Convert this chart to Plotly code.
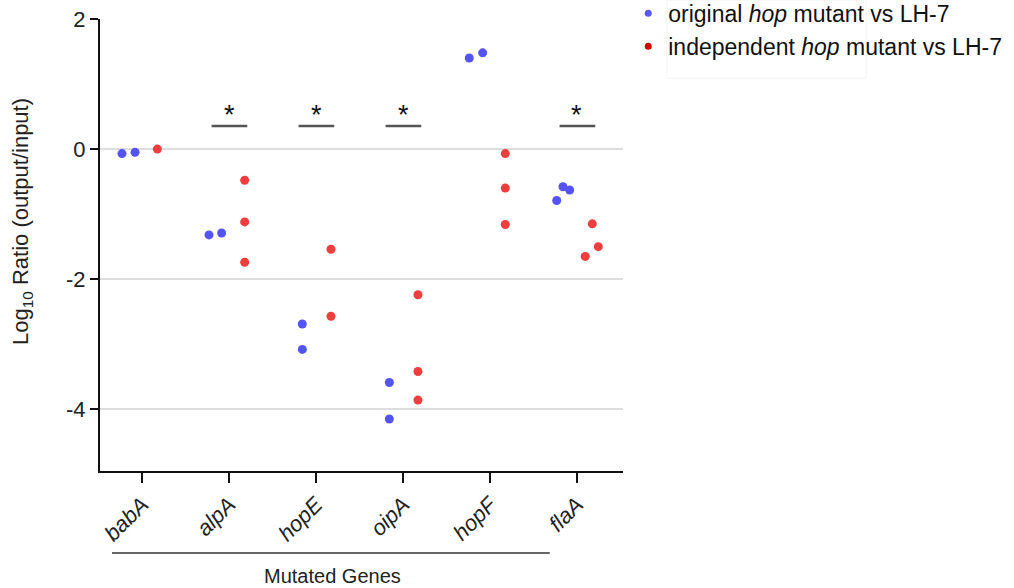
import plotly.graph_objects as go

# Genes on the x axis
genes = ["babA", "alpA", "hopE", "oipA", "hopF", "flaA"]

# Log10 competition ratios, original hop mutant vs LH-7
original_vals = [
    [-0.07, -0.05],
    [-1.32, -1.29],
    [-2.69, -3.08],
    [-3.59, -4.15],
    [1.40, 1.48],
    [-0.79, -0.58, -0.63],
]

# Log10 competition ratios, independent hop mutant vs LH-7
independent_vals = [
    [0.0],
    [-0.48, -1.12, -1.74],
    [-1.54, -2.57],
    [-2.24, -3.42, -3.86],
    [-0.07, -0.60, -1.16],
    [-1.15, -1.50, -1.65],
]

# Horizontal scatter of points around each gene position
original_jitter = [
    [-0.23, -0.08],
    [-0.23, -0.085],
    [-0.157, -0.157],
    [-0.157, -0.157],
    [-0.238, -0.084],
    [-0.233, -0.161, -0.084],
]
independent_jitter = [
    [0.176],
    [0.18, 0.18, 0.18],
    [0.172, 0.172],
    [0.172, 0.172, 0.172],
    [0.176, 0.176, 0.176],
    [0.176, 0.245, 0.095],
]

# Genes marked as significant
sig_genes = ["alpA", "hopE", "oipA", "flaA"]
sig_level = 0.355

y_ticks = [2, 0, -2, -4]

BLUE = "#5454F4"
RED = "#EF3E3E"
FONT = "Liberation Sans, Arial, sans-serif"


def spread(values, jitter):
    xs, ys = [], []
    for i, (vals, offs) in enumerate(zip(values, jitter)):
        for v, o in zip(vals, offs):
            xs.append(i + o)
            ys.append(v)
    return xs, ys


fig = go.Figure()

ox, oy = spread(original_vals, original_jitter)
ix, iy = spread(independent_vals, independent_jitter)

fig.add_trace(go.Scatter(x=ox, y=oy, mode="markers", showlegend=False,
                         marker=dict(color=BLUE, size=9)))
fig.add_trace(go.Scatter(x=ix, y=iy, mode="markers", showlegend=False,
                         marker=dict(color=RED, size=9)))

# legend entries
fig.add_trace(go.Scatter(x=[None], y=[None], mode="markers",
                         name="original <i>hop</i> mutant vs LH-7",
                         marker=dict(color="#5a5af0", size=7)))
fig.add_trace(go.Scatter(x=[None], y=[None], mode="markers",
                         name="independent <i>hop</i> mutant vs LH-7",
                         marker=dict(color="#D40000", size=7)))

shapes = []
annotations = []

# significance bars with asterisks
for g in sig_genes:
    i = genes.index(g)
    shapes.append(dict(type="line", xref="x", yref="y",
                       x0=i - 0.2, x1=i + 0.21, y0=sig_level, y1=sig_level,
                       line=dict(color="#555555", width=2.5)))
    annotations.append(dict(x=i + 0.0, y=sig_level, xref="x", yref="y",
                            text="*", showarrow=False, yanchor="bottom",
                            yshift=-6, font=dict(size=27, color="#111111",
                                                 family=FONT)))

# group line under the tick labels and its title
shapes.append(dict(type="line", xref="paper", yref="paper",
                   x0=0.023, x1=0.860, y0=-0.1814, y1=-0.1814,
                   line=dict(color="#333333", width=1.5)))
annotations.append(dict(x=0.4436, y=-0.232, xref="paper", yref="paper",
                        text="Mutated Genes", showarrow=False,
                        xanchor="center", yanchor="middle",
                        font=dict(size=20, color="#222222", family=FONT)))

# y axis title
annotations.append(dict(x=-0.149, y=0.551, xref="paper", yref="paper",
                        text="Log<sub>10</sub> Ratio (output/input)",
                        textangle=-90, showarrow=False,
                        xanchor="center", yanchor="middle",
                        font=dict(size=22, color="#222222", family=FONT)))

# faint frame behind the legend
shapes.append(dict(type="rect", xref="paper", yref="paper",
                   x0=1.084, x1=1.465, y0=1.042, y1=0.869,
                   line=dict(color="#f3f3f3", width=1)))

fig.update_layout(
    width=1014, height=588,
    margin=dict(l=100, r=391, t=19, b=117, autoexpand=False),
    plot_bgcolor="white", paper_bgcolor="white",
    font=dict(family=FONT, color="#222222"),
    shapes=shapes, annotations=annotations,
    legend=dict(x=1.01, y=1.06, xanchor="left", yanchor="top",
                font=dict(size=23, color="#111111", family=FONT),
                bgcolor="rgba(0,0,0,0)", itemsizing="trace",
                tracegroupgap=0),
    xaxis=dict(
        range=[-0.483, 5.529],
        tickvals=list(range(len(genes))),
        ticktext=[f"<i>{g}</i>" for g in genes],
        tickangle=-45,
        tickfont=dict(size=22, color="#222222", family=FONT),
        showline=True, linecolor="#111111", linewidth=2,
        ticks="outside", ticklen=10, tickwidth=2, tickcolor="#111111",
        showgrid=False, zeroline=False, automargin=False,
    ),
    yaxis=dict(
        range=[-4.95, 2.0],
        tickvals=y_ticks,
        ticktext=[str(t) for t in y_ticks],
        tickfont=dict(size=22, color="#222222", family=FONT),
        showline=True, linecolor="#111111", linewidth=2,
        ticks="outside", ticklen=8, tickwidth=2, tickcolor="#111111",
        showgrid=True, gridcolor="#dddddd", gridwidth=2,
        zeroline=False, automargin=False,
    ),
)

fig.write_html("out.html")
